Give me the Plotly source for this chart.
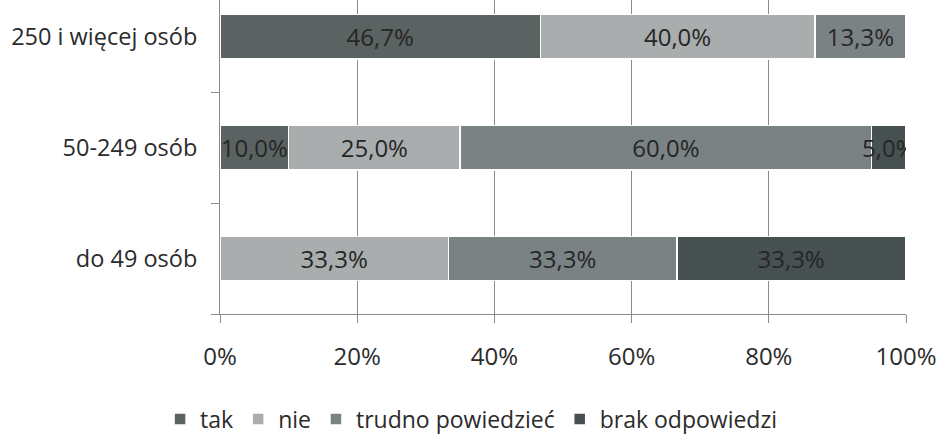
import plotly.graph_objects as go

categories = ["do 49 osób", "50-249 osób", "250 i więcej osób"]
series_names = ["tak", "nie", "trudno powiedzieć", "brak odpowiedzi"]
tak = [0, 10.0, 46.7]
nie = [33.3, 25.0, 40.0]
trudno = [33.3, 60.0, 13.3]
brak = [33.3, 5.0, 0]
colors = ["#5b6262", "#a9adae", "#7b8283", "#475151"]
x_ticks = [0, 20, 40, 60, 80, 100]

def fmt(v):
    return "" if not v else f"{v:.1f}".replace(".", ",") + "%"

FONT = "Open Sans"
fig = go.Figure()
for name, vals, col in zip(series_names, [tak, nie, trudno, brak], colors):
    fig.add_trace(go.Bar(
        y=categories, x=vals, name=name, orientation="h",
        marker=dict(color=col, line=dict(color="white", width=1.5)),
        text=[fmt(v) for v in vals], textposition="inside", textangle=0,
        insidetextanchor="middle",
        textfont=dict(color="#262626", size=24, family=FONT),
        width=0.4,
    ))

fig.update_layout(
    barmode="stack",
    width=939, height=434,
    margin=dict(l=220, r=33, t=0, b=120, autoexpand=False),
    paper_bgcolor="white", plot_bgcolor="white",
    font=dict(family=FONT, size=23, color="#2b2b2b"),
    uniformtext=dict(minsize=24, mode="show"),
    showlegend=True,
    legend=dict(orientation="h", x=0.366, xanchor="center", y=-0.266, yanchor="top",
                font=dict(size=23, color="#2b2b2b"), traceorder="normal",
                itemwidth=30),
    xaxis=dict(range=[0, 100], tickvals=x_ticks, ticktext=[f"{t}%" for t in x_ticks],
               showgrid=True, gridcolor="#8a8a8a", gridwidth=1,
               showline=True, linecolor="#8a8a8a", ticks="outside", ticklen=8,
               tickcolor="#8a8a8a", zeroline=False, automargin=False,
               ticklabelstandoff=13,
               tickfont=dict(size=24, color="#2b2b2b")),
    yaxis=dict(type="category", categoryorder="array", categoryarray=categories,
               range=[-0.5, 2.33], tickson="boundaries", ticks="outside", ticklen=8,
               tickcolor="#8a8a8a", showline=True, linecolor="#8a8a8a",
               showgrid=False, ticklabelstandoff=17, automargin=False,
               tickfont=dict(size=23.5, color="#2b2b2b")),
)
fig.write_html("out.html", config={"displayModeBar": False},
               post_script="document.body.style.margin='0';")
